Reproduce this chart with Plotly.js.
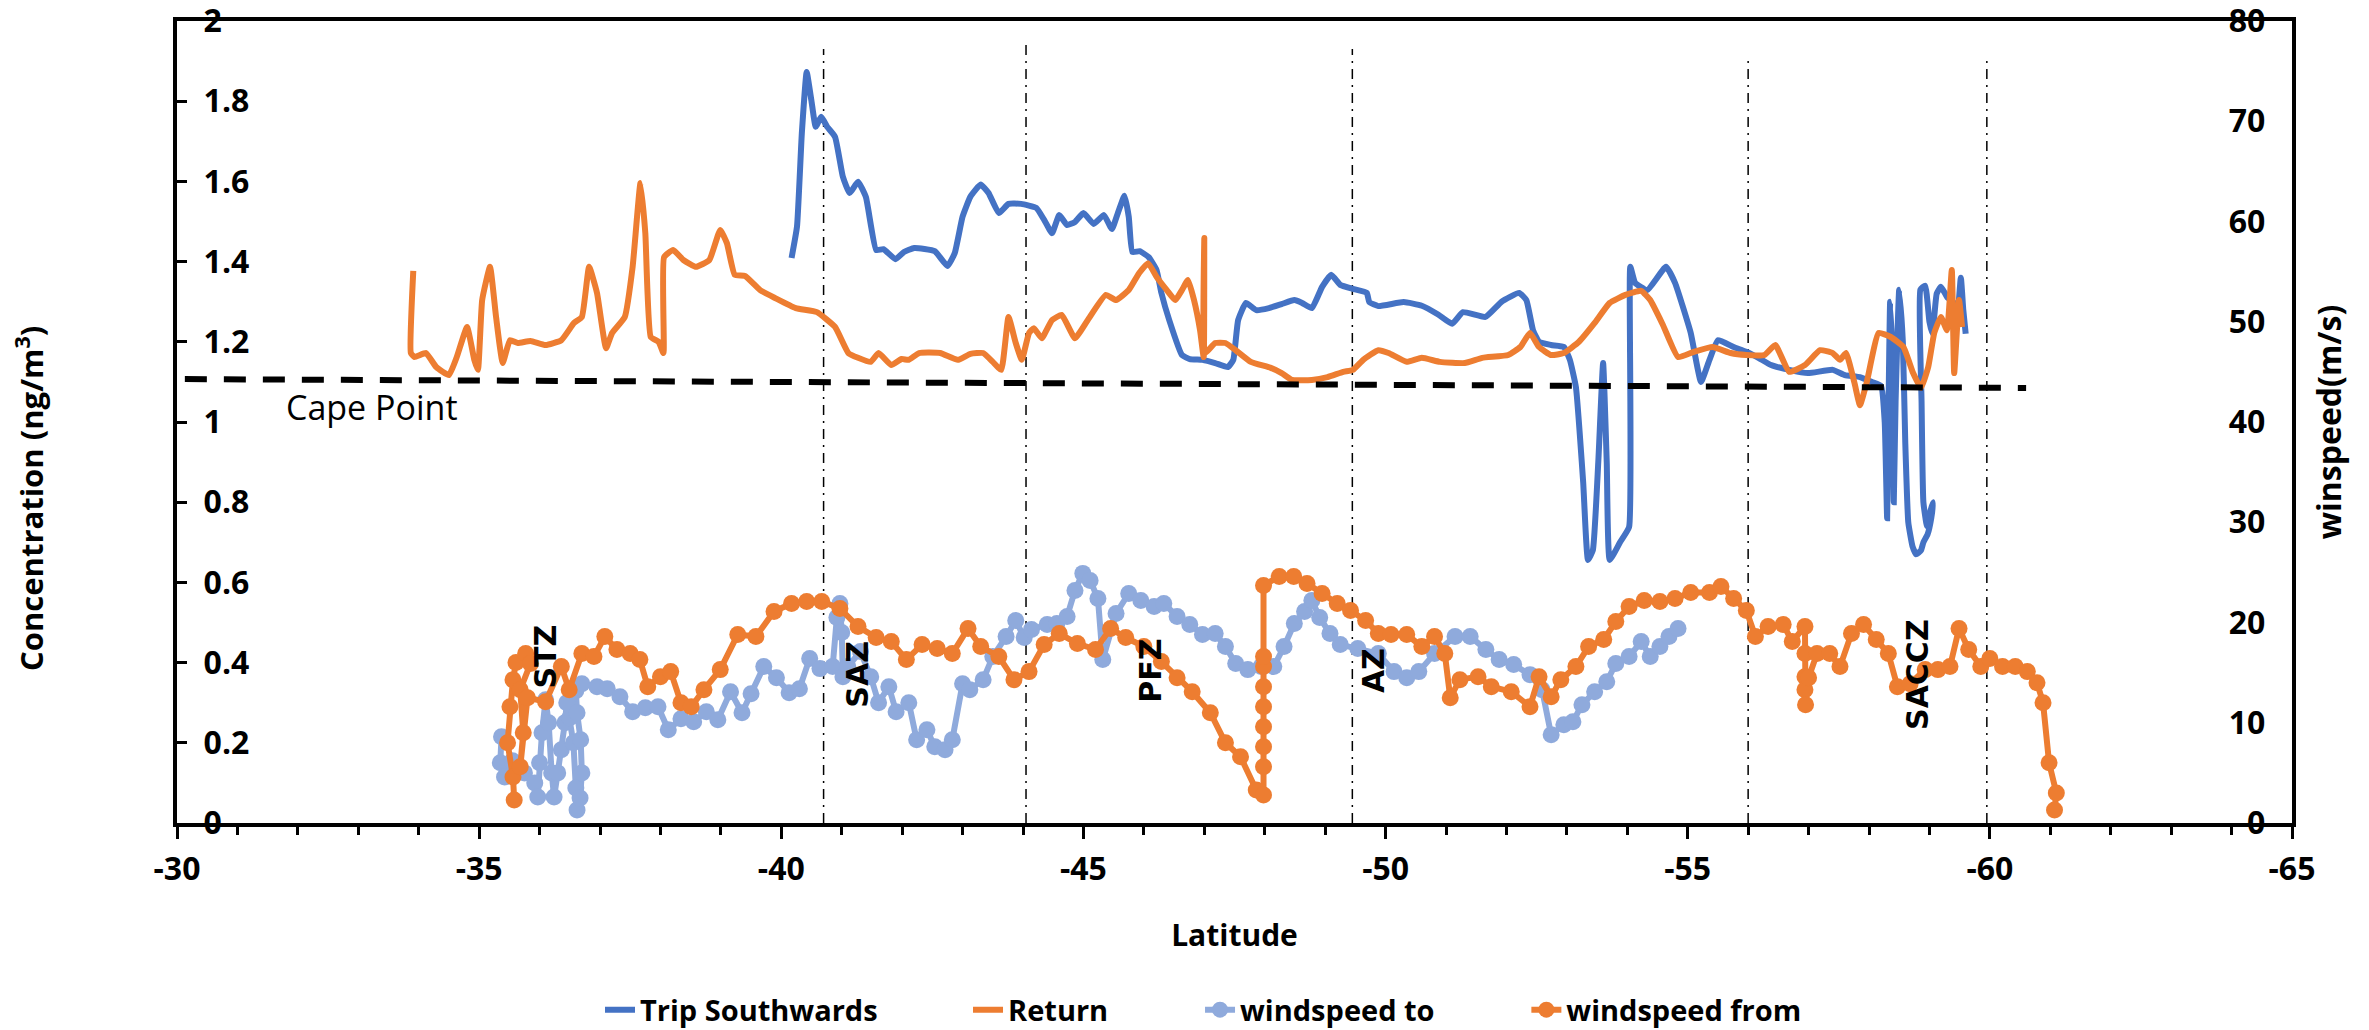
<!DOCTYPE html>
<html>
<head>
<meta charset="utf-8">
<script src="https://cdn.plot.ly/plotly-3.0.1.min.js"></script>
<style>
  html, body { margin: 0; padding: 0; background: #fff; }
  #chart { width: 2369px; height: 1030px; }
</style>
</head>
<body>
<div id="chart"></div>
<script>
// ---------------- DATA ----------------
// Trip Southwards: latitude and Hg concentration (ng/m3)
var tripLat = [-40.17,-40.26,-40.34,-40.42,-40.5,-40.57,-40.66,-40.76,-40.89,-41.02,-41.13,-41.27,-41.4,-41.57,-41.69,-41.89,-42.03,-42.2,-42.54,-42.75,-42.87,-43.0,-43.13,-43.3,-43.43,-43.6,-43.76,-43.97,-44.22,-44.35,-44.48,-44.6,-44.73,-44.86,-45.0,-45.17,-45.34,-45.47,-45.57,-45.68,-45.75,-45.81,-45.93,-46.08,-46.21,-46.29,-46.42,-46.63,-46.76,-46.97,-47.18,-47.39,-47.48,-47.56,-47.69,-47.86,-48.07,-48.28,-48.49,-48.62,-48.78,-48.95,-49.1,-49.25,-49.46,-49.69,-49.73,-49.88,-50.3,-50.6,-50.87,-51.1,-51.28,-51.65,-51.92,-52.21,-52.33,-52.44,-52.54,-52.74,-52.95,-53.05,-53.15,-53.27,-53.35,-53.43,-53.52,-53.6,-53.66,-53.71,-53.88,-54.03,-54.05,-54.13,-54.33,-54.64,-54.79,-55.05,-55.22,-55.36,-55.5,-55.76,-55.97,-56.17,-56.38,-56.68,-56.99,-57.4,-57.6,-57.85,-58.05,-58.2,-58.26,-58.3,-58.32,-58.35,-58.39,-58.41,-58.44,-58.5,-58.56,-58.6,-58.65,-58.72,-58.78,-58.86,-58.9,-58.97,-59.03,-59.06,-59.02,-58.96,-58.9,-58.87,-58.85,-58.93,-59.0,-59.05,-59.12,-59.19,-59.3,-59.39,-59.45,-59.52,-59.56,-59.6];
var tripConc = [1.409,1.487,1.72,1.873,1.80,1.736,1.761,1.736,1.711,1.611,1.571,1.599,1.561,1.429,1.431,1.406,1.424,1.434,1.426,1.389,1.421,1.512,1.562,1.592,1.571,1.521,1.544,1.544,1.534,1.504,1.471,1.516,1.491,1.499,1.521,1.494,1.516,1.481,1.521,1.564,1.512,1.424,1.426,1.411,1.379,1.322,1.254,1.167,1.157,1.155,1.147,1.137,1.155,1.254,1.297,1.279,1.284,1.294,1.304,1.297,1.284,1.337,1.367,1.342,1.332,1.322,1.299,1.289,1.299,1.29,1.268,1.245,1.274,1.262,1.30,1.322,1.304,1.229,1.2,1.192,1.187,1.155,1.087,0.85,0.656,0.68,0.9,1.147,0.9,0.656,0.70,0.738,1.387,1.347,1.329,1.387,1.347,1.222,1.10,1.155,1.204,1.187,1.175,1.16,1.142,1.13,1.122,1.13,1.117,1.112,1.10,1.09,1.0,0.76,1.0,1.30,1.15,0.80,1.05,1.33,1.20,0.95,0.75,0.69,0.67,0.68,0.70,0.72,0.76,0.80,0.78,0.74,0.80,1.05,1.33,1.34,1.25,1.22,1.32,1.337,1.31,1.30,1.24,1.36,1.28,1.22];

// Return: latitude and Hg concentration (ng/m3)
var returnLat = [-33.91,-33.87,-33.93,-34.12,-34.29,-34.5,-34.63,-34.8,-34.92,-34.98,-35.05,-35.18,-35.28,-35.39,-35.51,-35.64,-35.85,-36.1,-36.36,-36.57,-36.7,-36.82,-36.95,-37.1,-37.2,-37.41,-37.54,-37.67,-37.75,-37.84,-37.97,-38.05,-38.06,-38.21,-38.38,-38.59,-38.81,-38.99,-39.1,-39.23,-39.4,-39.65,-39.9,-40.24,-40.59,-40.89,-41.11,-41.27,-41.48,-41.61,-41.82,-41.99,-42.11,-42.28,-42.63,-42.92,-43.13,-43.34,-43.5,-43.64,-43.76,-43.88,-43.98,-44.1,-44.18,-44.31,-44.48,-44.64,-44.86,-45.07,-45.37,-45.54,-45.75,-45.92,-46.07,-46.21,-46.38,-46.52,-46.63,-46.73,-46.83,-46.93,-46.99,-47.0,-47.01,-47.18,-47.35,-47.52,-47.77,-48.1,-48.28,-48.45,-48.78,-49.04,-49.3,-49.46,-49.63,-49.88,-50.05,-50.35,-50.6,-50.9,-51.31,-51.6,-52.03,-52.23,-52.39,-52.54,-52.74,-52.95,-53.2,-53.46,-53.71,-53.97,-54.23,-54.38,-54.59,-54.84,-55.1,-55.41,-55.71,-55.97,-56.27,-56.45,-56.68,-56.94,-57.19,-57.4,-57.52,-57.62,-57.76,-57.85,-57.96,-58.16,-58.36,-58.57,-58.73,-58.86,-58.98,-59.08,-59.19,-59.29,-59.37,-59.41,-59.49,-59.54];
var returnConc = [1.377,1.172,1.162,1.172,1.137,1.117,1.162,1.237,1.155,1.13,1.304,1.387,1.262,1.147,1.204,1.197,1.202,1.192,1.204,1.247,1.262,1.387,1.322,1.184,1.222,1.262,1.387,1.596,1.471,1.212,1.2,1.172,1.411,1.429,1.404,1.387,1.404,1.479,1.446,1.367,1.364,1.329,1.309,1.284,1.274,1.237,1.172,1.16,1.15,1.172,1.142,1.157,1.155,1.172,1.172,1.155,1.17,1.172,1.15,1.13,1.262,1.197,1.155,1.222,1.234,1.209,1.254,1.267,1.209,1.254,1.317,1.304,1.329,1.371,1.396,1.362,1.329,1.304,1.329,1.354,1.304,1.229,1.162,1.459,1.172,1.197,1.197,1.179,1.15,1.135,1.122,1.105,1.105,1.112,1.125,1.13,1.155,1.179,1.172,1.15,1.16,1.15,1.147,1.16,1.167,1.187,1.222,1.187,1.167,1.172,1.2,1.247,1.297,1.317,1.327,1.304,1.242,1.162,1.175,1.187,1.172,1.167,1.167,1.192,1.125,1.142,1.179,1.172,1.155,1.172,1.097,1.042,1.097,1.222,1.212,1.187,1.122,1.085,1.137,1.222,1.262,1.229,1.379,1.122,1.304,1.237];

// windspeed to: latitude and wind speed (m/s)
var windToLat = [-35.37,-35.35,-35.42,-35.55,-35.75,-35.92,-35.97,-36.0,-36.04,-36.1,-36.15,-36.2,-36.24,-36.3,-36.36,-36.42,-36.45,-36.5,-36.56,-36.6,-36.62,-36.67,-36.7,-36.68,-36.62,-36.6,-36.7,-36.95,-37.12,-37.33,-37.54,-37.75,-37.96,-38.13,-38.34,-38.55,-38.76,-38.95,-39.16,-39.35,-39.5,-39.71,-39.92,-40.13,-40.3,-40.47,-40.64,-40.85,-40.92,-40.97,-41.0,-41.02,-41.1,-41.31,-41.48,-41.61,-41.78,-41.9,-42.11,-42.24,-42.41,-42.54,-42.71,-42.83,-43.0,-43.12,-43.34,-43.5,-43.72,-43.88,-44.02,-44.14,-44.4,-44.56,-44.73,-44.86,-44.99,-45.11,-45.24,-45.32,-45.54,-45.75,-45.95,-46.17,-46.33,-46.55,-46.76,-46.97,-47.18,-47.35,-47.52,-47.72,-47.94,-48.15,-48.32,-48.49,-48.66,-48.78,-48.91,-49.08,-49.25,-49.54,-49.88,-50.14,-50.35,-50.55,-50.81,-51.15,-51.4,-51.66,-51.88,-52.12,-52.39,-52.59,-52.74,-52.95,-53.1,-53.25,-53.46,-53.66,-53.81,-54.03,-54.23,-54.38,-54.54,-54.69,-54.84];
var windTo = [8.6,6.0,4.6,6.2,5.0,4.0,2.6,6.0,9.0,12.3,10.0,5.0,2.6,5.0,7.3,10.0,12.0,10.5,8.0,3.5,1.3,2.5,5.0,8.3,11.0,13.2,13.9,13.6,13.4,12.6,11.1,11.5,11.6,9.3,10.4,10.1,11.1,10.3,13.1,11.0,12.9,15.6,14.5,13.0,13.4,16.4,15.4,15.6,20.5,21.9,19.0,14.6,15.6,17.1,14.6,12.0,13.6,11.1,12.0,8.3,9.3,7.6,7.3,8.3,13.9,13.3,14.3,16.6,18.6,20.2,18.5,19.3,19.8,19.9,20.6,23.2,24.9,24.2,22.4,16.3,20.9,22.9,22.2,21.6,21.9,20.6,19.8,18.8,18.9,17.6,15.9,15.3,15.6,15.6,17.6,19.9,21.1,22.2,20.5,18.9,17.8,17.4,16.9,15.1,14.5,15.1,16.9,18.6,18.6,17.3,16.3,15.8,14.8,13.3,8.8,9.8,10.1,11.8,13.1,14.1,15.9,16.6,18.1,16.6,17.6,18.6,19.4];

// windspeed from: latitude and wind speed (m/s)
var windFromLat = [-35.58,-35.56,-35.47,-35.51,-35.56,-35.61,-35.77,-35.85,-35.68,-35.73,-35.68,-35.8,-36.1,-36.36,-36.49,-36.7,-36.9,-37.08,-37.28,-37.5,-37.66,-37.79,-38.0,-38.17,-38.34,-38.51,-38.72,-38.99,-39.28,-39.58,-39.88,-40.17,-40.42,-40.67,-40.97,-41.27,-41.57,-41.82,-42.07,-42.33,-42.58,-42.83,-43.09,-43.3,-43.6,-43.85,-44.1,-44.35,-44.6,-44.9,-45.2,-45.45,-45.7,-46.0,-46.29,-46.55,-46.8,-47.1,-47.35,-47.6,-47.86,-47.98,-47.98,-47.98,-47.98,-47.98,-47.98,-47.98,-47.98,-47.98,-48.24,-48.48,-48.7,-48.95,-49.2,-49.42,-49.67,-49.88,-50.09,-50.35,-50.6,-50.81,-50.98,-51.07,-51.23,-51.53,-51.75,-52.08,-52.39,-52.54,-52.74,-52.9,-53.15,-53.36,-53.61,-53.81,-54.03,-54.28,-54.54,-54.79,-55.05,-55.36,-55.55,-55.76,-55.97,-56.12,-56.33,-56.58,-56.73,-56.94,-56.94,-56.94,-56.94,-56.95,-57.0,-57.14,-57.35,-57.52,-57.71,-57.91,-58.12,-58.32,-58.47,-58.68,-58.93,-59.14,-59.34,-59.49,-59.65,-59.85,-60.0,-60.21,-60.42,-60.62,-60.78,-60.88,-60.98,-61.1,-61.07];
var windFrom = [2.3,4.6,8.0,11.6,14.3,16.0,16.9,15.9,13.3,9.0,5.6,12.5,12.1,15.6,13.3,16.9,16.6,18.6,17.3,16.9,16.3,13.6,14.6,15.1,12.0,11.6,13.3,15.3,18.8,18.6,21.1,21.9,22.1,22.1,21.4,19.6,18.5,18.1,16.3,17.8,17.4,16.9,19.4,17.6,16.6,14.3,15.1,17.8,18.9,17.9,17.3,19.4,18.5,17.6,16.1,14.5,13.1,11.0,8.0,6.6,3.3,2.8,5.6,7.6,9.6,11.6,13.6,15.6,16.6,23.7,24.6,24.6,23.9,22.9,21.9,21.2,20.2,18.9,18.8,18.8,17.6,18.6,16.9,12.5,14.3,14.6,13.6,13.1,11.6,14.6,12.6,14.3,15.6,17.6,18.3,20.1,21.6,22.2,22.1,22.4,23.0,23.0,23.6,22.4,21.2,18.6,19.6,19.8,18.1,19.6,16.9,14.6,13.3,11.8,14.5,16.9,16.9,15.6,18.9,19.8,18.3,16.9,13.6,13.9,15.3,15.3,15.6,19.4,17.3,15.6,16.4,15.6,15.6,15.1,14.0,12.0,6.0,3.0,1.3];

// Cape Point reference level (ng/m3)
var capeLat = [-30.13, -60.6];
var capeConc = [1.107, 1.085];

// Frontal zones
var zoneBoundLat = [-40.7, -44.05, -49.45, -56.0, -59.95];
var zoneBoundTop = [1.93, 1.94, 1.93, 1.91, 1.90];
var zoneNames = ['STZ', 'SAZ', 'PFZ', 'AZ', 'SACCZ'];
var zoneLabelLat = [-36.1, -41.27, -46.12, -49.8, -58.8];
var zoneLabelConc = [0.414, 0.37, 0.38, 0.38, 0.37];

// Axis ticks
var xTickVals = [-30, -35, -40, -45, -50, -55, -60, -65];
var xTickText = ['-30', '-35', '-40', '-45', '-50', '-55', '-60', '-65'];

// ---------------- CHART ----------------
var BLUE = '#4472C4', ORANGE = '#ED7D31', LIGHTBLUE = '#8FAADC';
var FONT = 'Open Sans, Noto Sans, sans-serif';

var traces = [
  { x: tripLat, y: tripConc, type: 'scatter', mode: 'lines', name: 'Trip Southwards',
    line: { color: BLUE, width: 6, shape: 'spline', smoothing: 0.4 }, legend: 'legend', hoverinfo: 'skip' },
  { x: returnLat, y: returnConc, type: 'scatter', mode: 'lines', name: 'Return',
    line: { color: ORANGE, width: 6, shape: 'spline', smoothing: 0.4 }, legend: 'legend2', hoverinfo: 'skip' },
  { x: capeLat, y: capeConc, type: 'scatter', mode: 'lines', name: 'Cape Point', showlegend: false,
    line: { color: '#000', width: 6, dash: '22px,17px' }, hoverinfo: 'skip' },
  { x: windToLat, y: windTo, type: 'scatter', mode: 'lines+markers', name: 'windspeed to', yaxis: 'y2',
    line: { color: LIGHTBLUE, width: 6 }, marker: { color: LIGHTBLUE, size: 17 }, legend: 'legend3', hoverinfo: 'skip' },
  { x: windFromLat, y: windFrom, type: 'scatter', mode: 'lines+markers', name: 'windspeed from', yaxis: 'y2',
    line: { color: ORANGE, width: 6 }, marker: { color: ORANGE, size: 17 }, legend: 'legend4', hoverinfo: 'skip' }
];

var shapes = zoneBoundLat.map(function (lat, i) {
  return { type: 'line', xref: 'x', yref: 'y', x0: lat, x1: lat, y0: 0, y1: zoneBoundTop[i],
           line: { color: '#000', width: 1.5, dash: '10px,6px,2px,6px' }, layer: 'below' };
});

var annotations = zoneNames.map(function (name, i) {
  return { text: name, xref: 'x', yref: 'y', x: zoneLabelLat[i], y: zoneLabelConc[i],
           showarrow: false, textangle: -90, xanchor: 'center', yanchor: 'middle',
           font: { family: 'DejaVu Sans, sans-serif', size: 30, color: '#000', weight: 700 } };
});
annotations.push({ text: 'Cape Point', xref: 'x', yref: 'y', x: -33.23, y: 1.037, showarrow: false,
  xanchor: 'center', yanchor: 'middle', font: { family: FONT, size: 34, color: '#000' } });
annotations.push({ text: 'Concentration (ng/m<sup>3</sup>)', xref: 'paper', yref: 'paper',
  x: -0.0695, y: 0.404, showarrow: false, textangle: -90, xanchor: 'center', yanchor: 'middle',
  font: { family: FONT, size: 31, color: '#000', weight: 700 } });

function legendAt(xp) {
  return { orientation: 'h', x: xp, xanchor: 'left', y: -0.233, yanchor: 'middle',
           font: { family: FONT, size: 29, color: '#000', weight: 700 }, bgcolor: 'rgba(0,0,0,0)' };
}

var tickFont = { family: FONT, size: 32, color: '#000', weight: 700 };

var layout = {
  width: 2369, height: 1030,
  margin: { l: 177, r: 77, t: 21, b: 207, autoexpand: false },
  paper_bgcolor: '#fff', plot_bgcolor: '#fff',
  showlegend: true,
  xaxis: {
    range: [-30, -65], tickmode: 'array', tickvals: xTickVals, ticktext: xTickText,
    ticks: 'outside', ticklen: 12, tickwidth: 3, tickcolor: '#000',
    minor: { dtick: 1, tick0: -30, ticks: 'outside', ticklen: 8, tickwidth: 3, tickcolor: '#000', showgrid: false },
    showline: true, linecolor: '#000', linewidth: 4, mirror: true, showgrid: false, zeroline: false,
    tickfont: tickFont, ticklabelstandoff: 3, ticklabeloverflow: 'allow', automargin: false,
    title: { text: 'Latitude', font: { family: FONT, size: 30, color: '#000', weight: 700 }, standoff: 38 }
  },
  yaxis: {
    range: [0, 2], dtick: 0.2, tick0: 0,
    ticks: 'inside', ticklen: 10, tickwidth: 3, tickcolor: '#000',
    ticklabelposition: 'inside', ticklabelstandoff: 20, ticklabeloverflow: 'allow', automargin: false,
    showline: true, linecolor: '#000', linewidth: 4, showgrid: false, zeroline: false,
    tickfont: tickFont
  },
  yaxis2: {
    overlaying: 'y', side: 'right', range: [0, 80], dtick: 10, tick0: 0,
    ticks: '', ticklabelposition: 'inside', ticklabelstandoff: 30, ticklabeloverflow: 'allow', automargin: false,
    showline: true, linecolor: '#000', linewidth: 4, showgrid: false, zeroline: false,
    tickfont: tickFont,
    title: { text: 'winspeed(m/s)', font: { family: FONT, size: 32, color: '#000', weight: 700 }, standoff: 55 }
  },
  legend: legendAt(0.2),
  legend2: legendAt(0.374),
  legend3: legendAt(0.4837),
  legend4: legendAt(0.638),
  shapes: shapes,
  annotations: annotations,
  hovermode: false
};

Plotly.newPlot('chart', traces, layout, { displayModeBar: false, staticPlot: true });
</script>
</body>
</html>
